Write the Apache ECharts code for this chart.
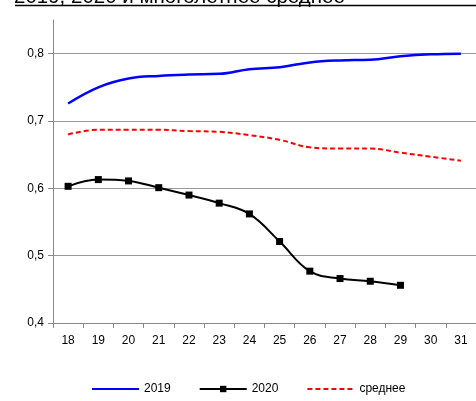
<!DOCTYPE html>
<html>
<head>
<meta charset="utf-8">
<script src="https://cdn.jsdelivr.net/npm/echarts@6/dist/echarts.min.js"></script>
<style>
html,body{margin:0;padding:0;background:#fff;}
#c{width:476px;height:401px;}
</style>
</head>
<body>
<div id="c"></div>
<script>
const titleText = '2019, 2020 и многолетнее среднее';
const categories = ['18','19','20','21','22','23','24','25','26','27','28','29','30','31'];
const yTicks = [0.4, 0.5, 0.6, 0.7, 0.8];
const s2019 = [0.726, 0.750, 0.763, 0.767, 0.769, 0.770, 0.777, 0.780, 0.787, 0.790, 0.791, 0.796, 0.799, 0.800];
const s2020 = [0.603, 0.613, 0.611, 0.601, 0.590, 0.578, 0.562, 0.521, 0.477, 0.466, 0.462, 0.456];
const sMean = [0.680, 0.687, 0.687, 0.687, 0.685, 0.684, 0.679, 0.672, 0.661, 0.659, 0.659, 0.653, 0.647, 0.641];

const FONT = 'Liberation Sans, Arial, sans-serif';
const chart = echarts.init(document.getElementById('c'), null, {renderer: 'canvas'});
chart.setOption({
  animation: false,
  backgroundColor: '#fff',
  textStyle: {fontFamily: FONT},
  title: {
    text: titleText,
    left: 14,
    top: -13,
    padding: 0,
    textStyle: {fontFamily: FONT, fontSize: 20.5, fontWeight: 'normal', color: '#000'}
  },
  graphic: [{
    type: 'line',
    shape: {x1: 15, y1: 5.5, x2: 476, y2: 5.5},
    style: {stroke: '#000', lineWidth: 1.5}
  }],
  grid: {left: 53, top: 20, right: -5, bottom: 78, containLabel: false},
  legend: {
    bottom: 1,
    left: 86,
    itemWidth: 47,
    itemHeight: 8,
    itemGap: 28,
    textStyle: {fontFamily: FONT, fontSize: 12, color: '#000'},
    data: [
      {name: '2019', itemStyle: {opacity: 0}},
      {name: '2020'},
      {name: 'среднее', itemStyle: {opacity: 0}}
    ]
  },
  xAxis: {
    type: 'category',
    data: categories,
    boundaryGap: true,
    axisLine: {lineStyle: {color: '#888', width: 1}},
    axisTick: {show: true, inside: false, length: 5, interval: 0, lineStyle: {color: '#888'}},
    axisLabel: {fontFamily: FONT, fontSize: 12, color: '#000', margin: 12, interval: 0},
    splitLine: {show: false}
  },
  yAxis: {
    type: 'value',
    min: 0.4,
    max: 0.85,
    interval: 0.1,
    axisLine: {show: true, lineStyle: {color: '#888', width: 1}},
    axisTick: {show: true, inside: false, length: 5, lineStyle: {color: '#888'}, customValues: yTicks},
    axisLabel: {
      fontFamily: FONT, fontSize: 12, color: '#000', margin: 9,
      customValues: yTicks,
      formatter: v => v.toFixed(1).replace('.', ',')
    },
    splitLine: {show: true, lineStyle: {color: '#999', width: 1}}
  },
  series: [
    {
      name: '2019', type: 'line', data: s2019, smooth: 0.4,
      symbol: 'none',
      lineStyle: {color: '#0000ff', width: 2.5},
      itemStyle: {color: '#0000ff'}
    },
    {
      name: '2020', type: 'line', data: s2020, smooth: 0.4,
      symbol: 'rect', symbolSize: 7,
      lineStyle: {color: '#000', width: 2},
      itemStyle: {color: '#000'}
    },
    {
      name: 'среднее', type: 'line', data: sMean, smooth: 0.4,
      symbol: 'none',
      lineStyle: {color: '#ff0000', width: 2, type: [5, 3]},
      itemStyle: {color: '#ff0000'}
    }
  ]
});
</script>
</body>
</html>
